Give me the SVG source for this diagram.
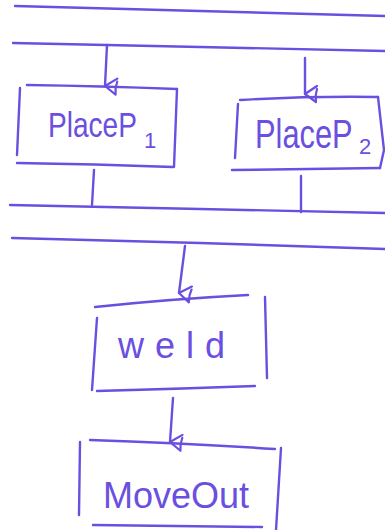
<svg xmlns="http://www.w3.org/2000/svg" width="385" height="530" viewBox="0 0 385 530">
<style>
.s{fill:none;stroke:#6a4fe0;stroke-width:2.4;stroke-linecap:round;stroke-linejoin:round}
.t{font-family:"Liberation Sans",Arial,sans-serif;fill:#6a4fe0;font-weight:normal}
</style>
<defs>
<marker id="ah" markerWidth="20" markerHeight="20" refX="10" refY="17" orient="auto" markerUnits="userSpaceOnUse" viewBox="0 0 20 20">
<path d="M2,5 L10,17 L18,6 Q11,7 5,5" fill="none" stroke="#6a4fe0" stroke-width="2.2" stroke-linecap="round" stroke-linejoin="round"/>
</marker>
</defs>
<rect width="385" height="530" fill="#ffffff"/>
<g id="bars">
<path class="s" d="M15,6 L200,11 L385,16"/>
<path class="s" d="M13,43 L200,47 L385,51"/>
<path class="s" d="M10,205 L200,209 L385,213"/>
<path class="s" d="M12,238 L200,243 L385,249"/>
</g>
<g id="connectors">
<path class="s" d="M107,45 L105,86" marker-end="url(#ah)"/>
<path class="s" d="M305,58 L305,94" marker-end="url(#ah)"/>
<path class="s" d="M94,170 L92,205"/>
<path class="s" d="M301,176 L301,212"/>
<path class="s" d="M185,246 L179,293" marker-end="url(#ah)"/>
<path class="s" d="M173,398 L170,442" marker-end="url(#ah)"/>
</g>
<g id="placeP1">
<path class="s" d="M27,85 Q100,86 177,89"/>
<path class="s" d="M20,88 L17,155"/>
<path class="s" d="M177,89 L174,167"/>
<path class="s" d="M17,163 Q95,164 173,167"/>
<text class="t" font-size="36" transform="translate(48,137) scale(0.78,1)">PlaceP</text>
<text class="t" x="144" y="148" font-size="22">1</text>
</g>
<g id="placeP2">
<path class="s" d="M240,100 Q310,96 378,97"/>
<path class="s" d="M238,104 L235,158"/>
<path class="s" d="M378,97 L384,150 L380,168"/>
<path class="s" d="M232,170 Q305,169 380,168"/>
<text class="t" font-size="40" transform="translate(255,148) scale(0.77,1)">PlaceP</text>
<text class="t" x="359" y="154" font-size="22">2</text>
</g>
<g id="weld">
<path class="s" d="M95,307 Q170,299 248,295"/>
<path class="s" d="M97,318 L92,390"/>
<path class="s" d="M265,297 L267,378"/>
<path class="s" d="M97,391 Q175,389 255,386"/>
<text class="t" x="118" y="358" font-size="36" textLength="107" lengthAdjust="spacing">weld</text>
</g>
<g id="moveOut">
<path class="s" d="M90,440 Q180,443 275,449"/>
<path class="s" d="M80,442 L79,515"/>
<path class="s" d="M281,448 L276,530"/>
<path class="s" d="M93,525 Q175,526 262,527"/>
<text class="t" x="103" y="508" font-size="36">MoveOut</text>
</g>
</svg>
